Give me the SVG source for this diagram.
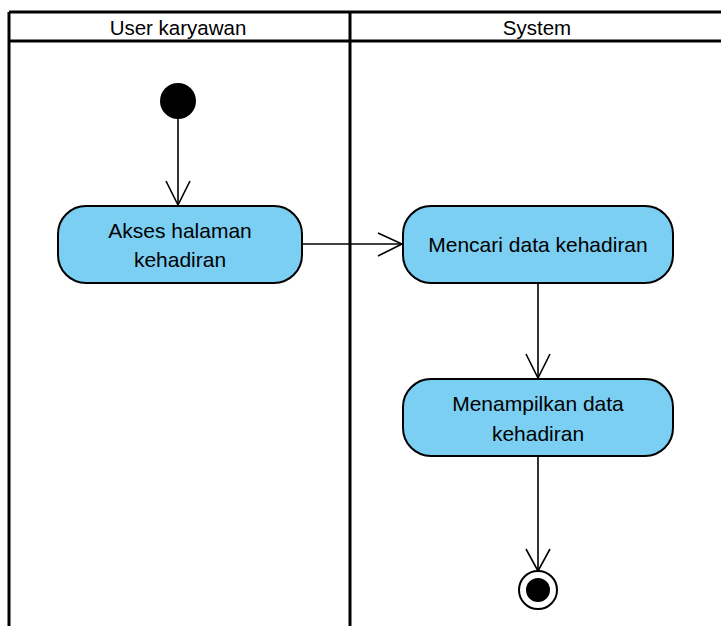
<svg xmlns="http://www.w3.org/2000/svg" width="721" height="626" viewBox="0 0 721 626">
<style>
.lane{stroke:#000;stroke-width:3;fill:none}
.hdr{font-family:"Liberation Sans",Arial,sans-serif;font-size:20.5px;fill:#000;text-anchor:middle}
.act{fill:#7BCFF3;stroke:#000;stroke-width:2}
.lbl{font-family:"Liberation Sans",Arial,sans-serif;font-size:21px;fill:#000;text-anchor:middle}
.edge{stroke:#000;stroke-width:1.6;fill:none}
</style>
<g id="lanes">
<rect x="0" y="0" width="721" height="626" fill="#fff"/>
<line class="lane" x1="9" y1="12" x2="721" y2="12"/>
<line class="lane" x1="9" y1="41" x2="721" y2="41"/>
<line class="lane" x1="9" y1="12" x2="9" y2="626"/>
<line class="lane" x1="350" y1="12" x2="350" y2="626"/>
<text class="hdr" x="178" y="35">User karyawan</text>
<text class="hdr" x="537" y="35">System</text>
</g>
<g id="connectors">
<line class="edge" x1="178" y1="119" x2="178" y2="205"/>
<polyline class="edge" points="166,181 178,205 190,181"/>
<line class="edge" x1="302" y1="244" x2="402" y2="244"/>
<polyline class="edge" points="378,233 402,244 378,256"/>
<line class="edge" x1="538" y1="283" x2="538" y2="378"/>
<polyline class="edge" points="526,354 538,378 550,354"/>
<line class="edge" x1="538" y1="456" x2="538" y2="571"/>
<polyline class="edge" points="526,549 538,571 550,549"/>
</g>
<g id="start">
<circle cx="178" cy="101" r="18" fill="#000"/>
</g>
<g id="akses">
<rect class="act" x="58" y="206" width="244" height="77" rx="28"/>
<text class="lbl" x="180" y="238">Akses halaman</text>
<text class="lbl" x="180" y="267">kehadiran</text>
</g>
<g id="mencari">
<rect class="act" x="403" y="206" width="270" height="77" rx="28"/>
<text class="lbl" x="538" y="252">Mencari data kehadiran</text>
</g>
<g id="menampilkan">
<rect class="act" x="403" y="379" width="270" height="77" rx="28"/>
<text class="lbl" x="538" y="411">Menampilkan data</text>
<text class="lbl" x="538" y="441">kehadiran</text>
</g>
<g id="end">
<circle cx="538" cy="590" r="19" fill="#fff" stroke="#000" stroke-width="2"/>
<circle cx="538" cy="590" r="12" fill="#000"/>
</g>
</svg>
